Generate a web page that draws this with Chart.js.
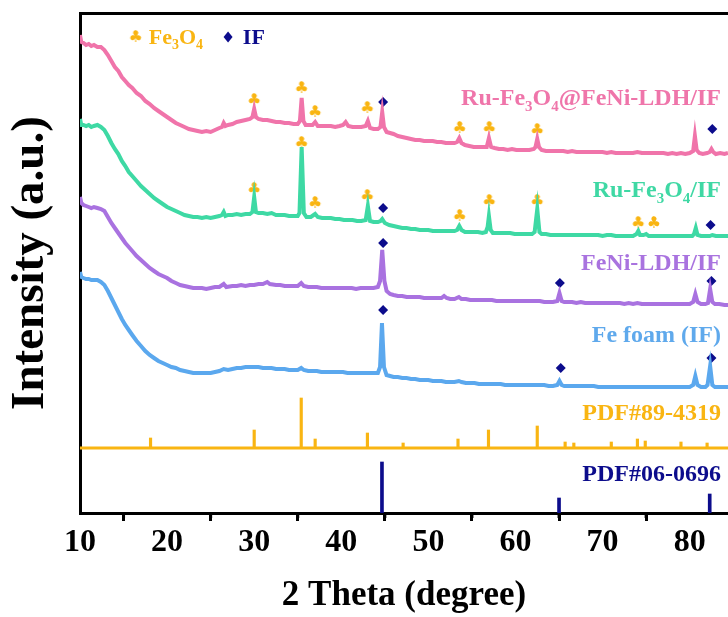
<!DOCTYPE html>
<html>
<head>
<meta charset="utf-8">
<script src="https://cdn.jsdelivr.net/npm/chart.js@4.4.1/dist/chart.umd.min.js"></script>
<style>
  body { margin: 0; background: #fff; }
  #xrdChart { display: block; }
</style>
</head>
<body>
<canvas id="xrdChart" width="728" height="617"></canvas>
<script>
// 2 theta (degree) / intensity (a.u., offset stacked)
const ruFe3O4FeNi = [[10.0,478],[10.15,471],[10.4,470],[10.7,468],[11.0,469],[11.3,467],[11.6,468],[12.0,466],[12.4,466],[12.8,463],[13.2,458],[13.6,452],[14.0,446],[14.4,442],[14.8,436],[15.2,432],[15.6,428],[16.0,425],[16.5,420],[17.0,417],[17.5,412],[18.0,409],[18.5,405],[19.0,402],[19.5,399],[20.0,396],[20.5,393],[21.0,390],[21.5,388],[22.0,386],[22.5,384],[23.0,383],[23.5,382],[24.0,381],[24.5,382],[25.0,381],[25.5,383],[26.0,385],[26.3,386],[26.5,390],[26.7,387],[27.0,388],[27.5,389],[28.0,391],[28.5,392],[29.0,393],[29.5,394],[29.8,396],[30.0,404],[30.2,396],[30.5,394],[31.0,393],[31.5,393],[32.0,392],[32.5,391],[33.0,391],[33.5,390],[34.0,390],[34.5,389],[35.0,389],[35.25,392],[35.45,415],[35.65,392],[35.9,388],[36.3,388],[36.7,388],[37.0,391],[37.3,387],[37.8,387],[38.3,387],[38.8,387],[39.3,386],[39.8,387],[40.2,388],[40.5,391],[40.8,387],[41.3,386],[41.8,386],[42.3,386],[42.8,387],[43.05,392],[43.3,385],[43.7,384],[44.2,384],[44.5,386],[44.7,401],[44.9,386],[45.2,381],[45.6,380],[46.0,379],[46.5,377],[47.0,376],[47.5,375],[48.0,374],[48.5,373],[49.0,373],[49.5,372],[50.0,372],[50.5,372],[51.0,371],[51.5,371],[52.0,370],[52.5,370],[53.0,370],[53.3,371],[53.55,375],[53.8,370],[54.2,368],[54.7,367],[55.2,366],[55.7,366],[56.2,366],[56.7,366],[56.95,375],[57.2,366],[57.6,365],[58.1,364],[58.6,364],[59.1,363],[59.6,364],[60.1,363],[60.6,363],[61.1,363],[61.6,363],[62.1,364],[62.3,366],[62.5,374],[62.7,366],[63.0,363],[63.5,362],[64.0,362],[64.5,362],[65.0,362],[65.5,362],[66.0,361],[66.5,362],[67.0,361],[67.5,361],[68.0,361],[68.5,361],[69.0,361],[69.5,361],[70.0,361],[70.5,360],[71.0,361],[71.5,360],[72.0,360],[72.5,360],[73.0,360],[73.5,360],[74.0,361],[74.5,360],[75.0,360],[75.5,360],[76.0,360],[76.5,360],[77.0,360],[77.5,359],[78.0,360],[78.5,359],[79.0,360],[79.5,359],[80.0,360],[80.4,362],[80.6,377],[80.8,363],[81.1,360],[81.5,359],[82.0,360],[82.3,361],[82.5,364],[82.7,361],[83.0,359],[83.5,360],[84.0,359],[84.4,360]];

const ruFe3O4 = [[10.0,394],[10.15,388],[10.4,388],[10.7,387],[11.0,388],[11.3,386],[11.6,387],[12.0,388],[12.4,386],[12.8,383],[13.2,377],[13.6,370],[14.0,364],[14.4,359],[14.8,352],[15.2,347],[15.6,341],[16.0,337],[16.5,332],[17.0,327],[17.5,323],[18.0,319],[18.5,315],[19.0,312],[19.5,309],[20.0,306],[20.5,304],[21.0,302],[21.5,300],[22.0,298],[22.5,297],[23.0,296],[23.5,296],[24.0,295],[24.5,296],[25.0,295],[25.5,296],[26.0,297],[26.3,298],[26.5,301],[26.7,297],[27.0,298],[27.5,298],[28.0,299],[28.5,298],[29.0,299],[29.5,299],[29.8,301],[30.0,316],[30.2,301],[30.5,300],[31.0,300],[31.5,299],[32.0,300],[32.5,298],[33.0,298],[33.5,298],[34.0,297],[34.5,297],[35.0,297],[35.2,300],[35.45,366],[35.7,300],[36.0,296],[36.5,296],[37.0,299],[37.3,296],[37.8,295],[38.3,295],[38.8,295],[39.3,294],[39.8,294],[40.3,293],[40.8,293],[41.3,293],[41.8,292],[42.3,292],[42.8,293],[43.05,307],[43.3,292],[43.7,291],[44.2,291],[44.5,292],[44.7,294],[45.0,290],[45.5,288],[46.0,287],[46.5,286],[47.0,285],[47.5,285],[48.0,284],[48.5,284],[49.0,283],[49.5,283],[50.0,283],[50.5,282],[51.0,282],[51.5,282],[52.0,282],[52.5,282],[53.0,282],[53.3,283],[53.55,287],[53.8,283],[54.2,281],[54.7,281],[55.2,281],[55.7,281],[56.2,280],[56.6,281],[56.8,286],[56.95,297],[57.15,283],[57.4,280],[57.9,280],[58.4,280],[58.9,280],[59.4,280],[59.9,279],[60.4,279],[60.9,279],[61.4,279],[61.9,279],[62.2,281],[62.5,304],[62.75,281],[63.0,279],[63.5,279],[64.0,278],[64.5,278],[65.0,278],[65.5,278],[66.0,278],[66.5,278],[67.0,278],[67.5,278],[68.0,278],[68.5,278],[69.0,278],[69.5,278],[70.0,277],[70.5,278],[71.0,278],[71.5,277],[72.0,277],[72.5,277],[73.0,277],[73.5,277],[73.9,279],[74.1,282],[74.3,278],[74.7,278],[75.0,279],[75.3,277],[75.8,277],[76.3,277],[76.8,277],[77.3,277],[77.8,277],[78.3,277],[78.8,277],[79.3,277],[79.8,277],[80.3,277],[80.5,279],[80.7,285],[80.9,278],[81.3,277],[81.8,277],[82.3,277],[82.6,278],[83.0,277],[83.5,277],[84.0,277],[84.4,277]];

const feNiLdh = [[10.0,316],[10.15,310],[10.4,308],[10.7,307],[11.0,306],[11.3,305],[11.6,306],[12.0,305],[12.4,304],[12.8,302],[13.2,296],[13.6,290],[14.0,285],[14.4,280],[14.8,275],[15.2,270],[15.6,266],[16.0,262],[16.5,257],[17.0,253],[17.5,249],[18.0,245],[18.5,242],[19.0,239],[19.5,237],[20.0,235],[20.5,232],[21.0,230],[21.5,228],[22.0,227],[22.5,226],[23.0,225],[23.5,225],[24.0,225],[24.5,224],[25.0,225],[25.5,226],[26.0,226],[26.5,229],[26.8,226],[27.5,227],[28.0,227],[28.5,228],[29.0,227],[29.5,228],[30.0,228],[30.5,229],[31.0,229],[31.5,231],[31.8,229],[32.5,228],[33.0,228],[33.5,227],[34.0,227],[34.5,227],[35.0,227],[35.4,230],[35.7,227],[36.2,226],[36.7,226],[37.2,226],[37.7,225],[38.2,225],[38.7,225],[39.2,225],[39.7,225],[40.2,225],[40.7,225],[41.2,225],[41.7,224],[42.2,225],[42.7,225],[43.2,225],[43.7,225],[44.2,226],[44.45,232],[44.7,263],[44.95,232],[45.2,222],[45.6,219],[46.0,218],[46.5,217],[47.0,217],[47.5,216],[48.0,216],[48.5,216],[49.0,216],[49.5,215],[50.0,215],[50.5,215],[51.0,215],[51.5,215],[51.8,217],[52.1,215],[52.5,214],[53.0,214],[53.5,216],[53.8,214],[54.3,214],[54.8,213],[55.3,213],[55.8,213],[56.3,213],[56.8,213],[57.3,213],[57.8,212],[58.3,212],[58.8,212],[59.3,212],[59.8,212],[60.3,212],[60.8,212],[61.3,212],[61.8,212],[62.3,212],[62.8,212],[63.3,211],[63.8,211],[64.3,211],[64.8,212],[65.05,220],[65.3,212],[65.6,211],[66.0,211],[66.5,211],[67.0,210],[67.5,211],[68.0,210],[68.5,210],[69.0,210],[69.5,210],[70.0,210],[70.5,210],[71.0,210],[71.5,210],[72.0,210],[72.5,209],[73.0,210],[73.5,209],[74.0,210],[74.5,209],[75.0,209],[75.5,209],[76.0,209],[76.5,209],[77.0,209],[77.5,209],[78.0,209],[78.5,209],[79.0,209],[79.5,209],[80.0,209],[80.4,211],[80.65,219],[80.9,211],[81.3,209],[81.8,209],[82.1,210],[82.35,224],[82.6,211],[82.9,209],[83.4,209],[84.0,208],[84.4,208]];

const feFoam = [[10.0,241],[10.15,236],[10.4,235],[10.7,234],[11.0,234],[11.3,233],[11.6,233],[12.0,233],[12.4,231],[12.8,228],[13.2,222],[13.6,215],[14.0,208],[14.4,201],[14.8,194],[15.2,188],[15.6,183],[16.0,178],[16.5,172],[17.0,167],[17.5,162],[18.0,158],[18.5,155],[19.0,152],[19.5,150],[20.0,148],[20.5,146],[21.0,145],[21.5,143],[22.0,142],[22.5,141],[23.0,140],[23.5,140],[24.0,140],[24.5,140],[25.0,140],[25.5,141],[26.0,142],[26.5,144],[27.0,143],[27.5,144],[28.0,145],[28.5,145],[29.0,146],[29.5,146],[30.0,146],[30.5,146],[31.0,145],[31.5,145],[32.0,145],[32.5,144],[33.0,144],[33.5,144],[34.0,143],[34.5,143],[35.0,143],[35.4,145],[35.7,143],[36.2,142],[36.7,142],[37.2,142],[37.7,141],[38.2,141],[38.7,141],[39.2,141],[39.7,141],[40.2,141],[40.7,140],[41.2,140],[41.7,140],[42.2,140],[42.7,140],[43.2,140],[43.7,140],[44.2,140],[44.45,146],[44.67,190],[44.9,146],[45.2,138],[45.6,137],[46.0,136],[46.5,136],[47.0,135],[47.5,135],[48.0,134],[48.5,134],[49.0,133],[49.5,133],[50.0,133],[50.5,132],[51.0,132],[51.5,132],[52.0,131],[52.5,131],[53.0,131],[53.5,132],[53.8,131],[54.3,130],[54.8,130],[55.3,130],[55.8,129],[56.3,129],[56.8,129],[57.3,129],[57.8,129],[58.3,129],[58.8,128],[59.3,128],[59.8,128],[60.3,128],[60.8,128],[61.3,128],[61.8,128],[62.3,128],[62.8,128],[63.3,128],[63.8,127],[64.3,127],[64.8,128],[65.05,132],[65.3,128],[65.6,127],[66.0,127],[66.5,127],[67.0,127],[67.5,127],[68.0,127],[68.5,127],[69.0,127],[69.5,126],[70.0,126],[70.5,126],[71.0,126],[71.5,126],[72.0,126],[72.5,126],[73.0,126],[73.5,126],[74.0,126],[74.5,126],[75.0,126],[75.5,126],[76.0,126],[76.5,126],[77.0,126],[77.5,126],[78.0,126],[78.5,126],[79.0,126],[79.5,126],[80.0,126],[80.4,128],[80.65,137],[80.9,128],[81.3,126],[81.8,126],[82.05,128],[82.35,147],[82.6,128],[82.9,126],[83.4,126],[84.0,126],[84.4,126]];

// reference cards: peak position, relative height
const pdf894319Base = 65;
const pdf894319Theta = [18.1, 30.0, 35.4, 37.0, 43.0, 47.1, 53.4, 56.9, 62.5, 65.7, 66.7, 71.0, 74.0, 74.9, 79.0, 82.0];
const pdf894319Height = [10, 18, 50, 9, 15, 5, 9, 18, 22, 6, 5, 6, 9, 7, 6, 5];
const pdf060696Theta = [44.67, 65.0, 82.3];
const pdf060696Height = [51, 15, 19];

// phase marks above peaks
const fe3o4Marks = [[30.0,413],[35.45,425],[37.0,401],[43.0,405],[53.6,385],[57.0,385],[62.5,383],
                    [30.0,324],[35.45,370],[37.0,310],[43.0,317],[53.6,297],[57.0,312],[62.5,312],[74.1,290],[75.9,290]];
const ironMarks = [[44.8,411],[82.6,384],[44.8,305],[82.4,288],[44.8,270],[65.1,230],[82.5,232],[44.8,203],[65.2,145],[82.5,155]];

const xTicks = [10, 20, 30, 40, 50, 60, 70, 80];
const xMinorTicks = [15, 25, 35, 45, 55, 65, 75];

const serif = '"Liberation Serif", "Times New Roman", serif';
const ORANGE = '#f9b512';
const NAVY = '#0c0c8c';

function toPoints(pairs) {
    return pairs.map(p => ({ x: p[0], y: p[1] }));
}

const clubImg = document.createElement('canvas');
clubImg.width = 16;
clubImg.height = 16;
(function () {
    const c = clubImg.getContext('2d');
    c.fillStyle = ORANGE;
    c.font = 'bold 16px "DejaVu Sans"';
    c.textAlign = 'center';
    c.textBaseline = 'middle';
    c.fillText('\u2663', 8, 8.5);
})();

const sampleLabels = [
    { parts: [['Ru-Fe'], ['3', 1], ['O'], ['4', 1], ['@FeNi-LDH/IF']], color: '#ef75aa', value: 408 },
    { parts: [['Ru-Fe'], ['3', 1], ['O'], ['4', 1], ['/IF']], color: '#3fd8a4', value: 316 },
    { parts: [['FeNi-LDH/IF']], color: '#a973df', value: 243 },
    { parts: [['Fe foam (IF)']], color: '#5fa9ec', value: 171 },
    { parts: [['PDF#89-4319']], color: ORANGE, value: 93 },
    { parts: [['PDF#06-0696']], color: NAVY, value: 32 }
];

function richWidth(ctx, parts, size) {
    let w = 0;
    parts.forEach(p => {
        ctx.font = 'bold ' + (p[1] ? Math.round(size * 0.62) : size) + 'px ' + serif;
        w += ctx.measureText(p[0]).width;
    });
    return w;
}

function drawRich(ctx, parts, x, y, size, color) {
    ctx.fillStyle = color;
    ctx.textAlign = 'left';
    ctx.textBaseline = 'alphabetic';
    parts.forEach(p => {
        ctx.font = 'bold ' + (p[1] ? Math.round(size * 0.62) : size) + 'px ' + serif;
        ctx.fillText(p[0], x, y + (p[1] ? size * 0.24 : 0));
        x += ctx.measureText(p[0]).width;
    });
}

const annotations = {
    id: 'annotations',
    afterDraw(chart) {
        const ctx = chart.ctx;
        const xs = chart.scales.x;
        const ys = chart.scales.y;
        const area = chart.chartArea;
        ctx.save();
        // minor ticks
        ctx.strokeStyle = '#000';
        ctx.lineWidth = 3;
        xMinorTicks.forEach(v => {
            const px = xs.getPixelForValue(v);
            ctx.beginPath();
            ctx.moveTo(px, area.bottom);
            ctx.lineTo(px, area.bottom + 5);
            ctx.stroke();
        });
        // sample labels
        sampleLabels.forEach(l => {
            const w = richWidth(ctx, l.parts, 24);
            drawRich(ctx, l.parts, area.right - 7 - w, ys.getPixelForValue(l.value), 24, l.color);
        });
        // legend
        const ly = ys.getPixelForValue(476);
        ctx.drawImage(clubImg, xs.getPixelForValue(16.4) - 8, ly - 8);
        drawRich(ctx, [['Fe'], ['3', 1], ['O'], ['4', 1]], xs.getPixelForValue(17.9), ly + 7, 22, ORANGE);
        const dx = xs.getPixelForValue(27.0);
        ctx.fillStyle = NAVY;
        ctx.beginPath();
        ctx.moveTo(dx, ly - 5.5);
        ctx.lineTo(dx + 4.5, ly);
        ctx.lineTo(dx, ly + 5.5);
        ctx.lineTo(dx - 4.5, ly);
        ctx.closePath();
        ctx.fill();
        drawRich(ctx, [['IF']], xs.getPixelForValue(28.7), ly + 7, 22, NAVY);
        ctx.restore();
    }
};

const noEdgePadding = scale => { scale.paddingLeft = 0; scale.paddingRight = 0; };
const curveDefaults = { type: 'line', borderWidth: 4, pointRadius: 0, tension: 0, fill: false };

const xrdChart = new Chart(document.querySelector('#xrdChart'), {
    type: 'line',
    data: {
        datasets: [
            { ...curveDefaults, label: 'Ru-Fe3O4@FeNi-LDH/IF', data: toPoints(ruFe3O4FeNi), borderColor: '#f074aa' },
            { ...curveDefaults, label: 'Ru-Fe3O4/IF', data: toPoints(ruFe3O4), borderColor: '#3ed9a4' },
            { ...curveDefaults, label: 'FeNi-LDH/IF', data: toPoints(feNiLdh), borderColor: '#a972e0' },
            { ...curveDefaults, label: 'Fe foam (IF)', data: toPoints(feFoam), borderColor: '#5ba8ee' },
            {
                type: 'line', label: 'PDF#89-4319 base', borderColor: ORANGE, borderWidth: 3, pointRadius: 0,
                data: [{ x: 10, y: pdf894319Base }, { x: 84.4, y: pdf894319Base }], clip: false
            },
            {
                type: 'bar', label: 'PDF#89-4319', backgroundColor: ORANGE, barThickness: 2.5, grouped: false,
                data: pdf894319Theta.map((t, i) => ({ x: t, y: [pdf894319Base, pdf894319Base + pdf894319Height[i]] }))
            },
            {
                type: 'bar', label: 'PDF#06-0696', backgroundColor: NAVY, barThickness: 3, grouped: false,
                data: pdf060696Theta.map((t, i) => ({ x: t, y: [0, pdf060696Height[i]] }))
            },
            {
                type: 'scatter', label: 'Fe3O4', data: toPoints(fe3o4Marks), pointStyle: clubImg, pointRadius: 8
            },
            {
                type: 'scatter', label: 'IF', data: toPoints(ironMarks), pointStyle: 'rectRot', pointRadius: 5,
                backgroundColor: NAVY, borderColor: NAVY, borderWidth: 0
            }
        ]
    },
    options: {
        responsive: false,
        animation: false,
        layout: { autoPadding: false, padding: { top: 13, right: 0, left: 0, bottom: 0 } },
        plugins: { legend: { display: false }, tooltip: { enabled: false } },
        scales: {
            x: {
                type: 'linear',
                min: 10,
                max: 84.4,
                offset: false,
                afterBuildTicks: scale => { scale.ticks = xTicks.map(v => ({ value: v })); },
                afterFit: scale => { scale.height = 104; noEdgePadding(scale); },
                ticks: { font: { family: serif, size: 32, weight: 'bold' }, color: '#000', padding: 3, maxRotation: 0 },
                grid: { drawOnChartArea: false, drawTicks: true, tickLength: 8, tickWidth: 3, tickColor: '#000' },
                border: { display: true, width: 3, color: '#000' },
                title: {
                    display: true, text: '2 Theta (degree)', color: '#000',
                    font: { family: serif, size: 35, weight: 'bold' }, padding: { top: 0, bottom: 0 }
                }
            },
            xTop: {
                type: 'linear',
                axis: 'x',
                position: 'top',
                min: 10,
                max: 84.4,
                afterFit: scale => { scale.height = 0; noEdgePadding(scale); },
                ticks: { display: false },
                grid: { drawOnChartArea: false, drawTicks: false },
                border: { display: true, width: 3, color: '#000' }
            },
            y: {
                type: 'linear',
                min: 0,
                max: 500,
                afterFit: scale => { scale.width = 80; scale.paddingTop = 0; scale.paddingBottom = 0; },
                ticks: { display: false },
                grid: { display: false },
                border: { display: true, width: 3, color: '#000' },
                title: {
                    display: true, text: 'Intensity (a.u.)', color: '#000',
                    font: { family: serif, size: 47, weight: 'bold' }, padding: { top: 3, bottom: 0 }
                }
            }
        }
    },
    plugins: [annotations]
});
</script>
</body>
</html>
